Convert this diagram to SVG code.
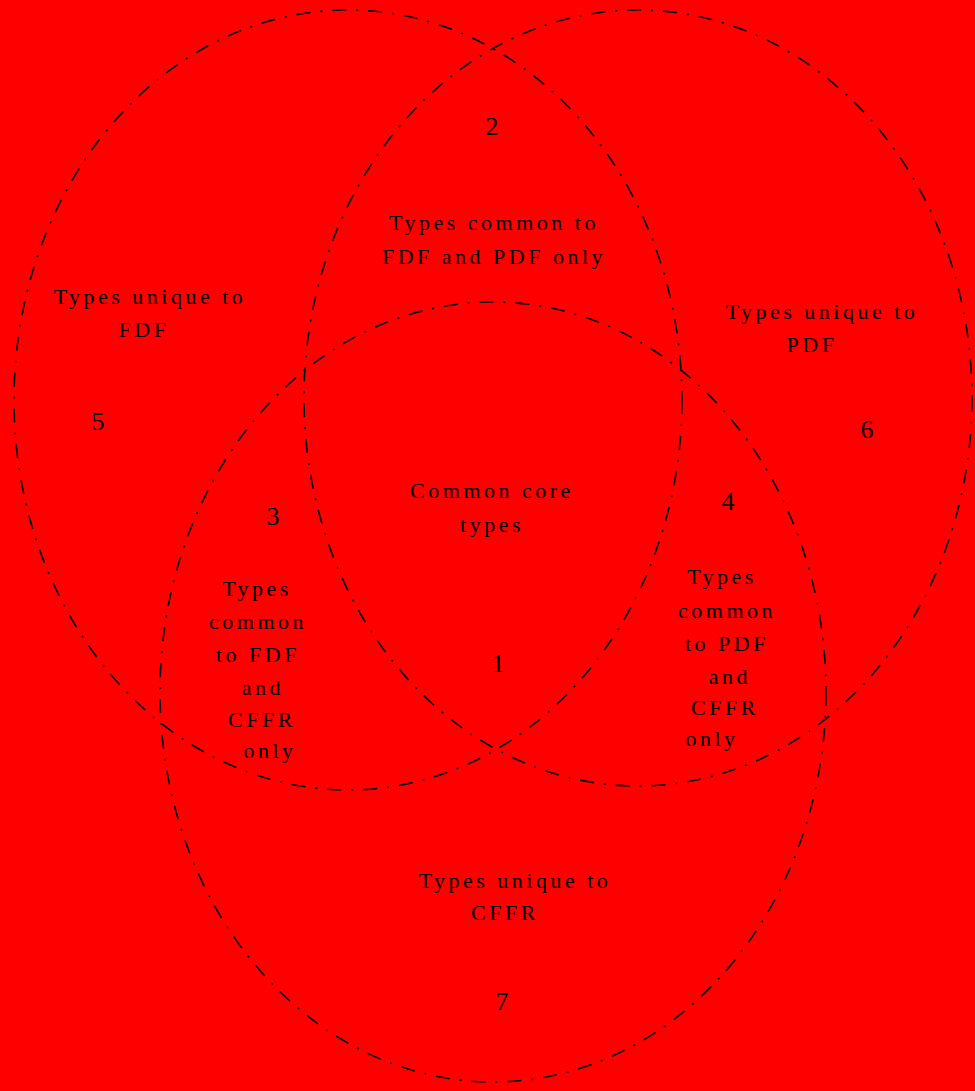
<svg xmlns="http://www.w3.org/2000/svg" width="975" height="1091" viewBox="0 0 975 1091">
<style>
.set{fill:none;stroke:#000;stroke-width:1.6;stroke-dasharray:14 10 2 10}
text{font-family:"Liberation Serif","DejaVu Serif",serif;font-size:22px;fill:#000;text-anchor:middle;letter-spacing:3.5px}
.num{font-size:26px;letter-spacing:0}
</style>
<rect x="0" y="0" width="975" height="1091" fill="#ff0000"/>
<g id="connectors">
<ellipse id="set-left" class="set" cx="348" cy="400" rx="334" ry="390"/>
<ellipse id="set-right" class="set" cx="638" cy="398" rx="334" ry="388"/>
<ellipse id="set-bottom" class="set" cx="493" cy="692" rx="333" ry="390"/>
</g>
<g id="region-2"><text class="num" x="492" y="135">2</text><text x="494" y="230">Types common to</text><text x="494" y="264">FDF and PDF only</text></g>
<g id="region-5"><text x="150" y="304">Types unique to</text><text x="144" y="337">FDF</text><text class="num" x="98" y="430">5</text></g>
<g id="region-6"><text x="822" y="319">Types unique to</text><text x="812" y="352">PDF</text><text class="num" x="867" y="438">6</text></g>
<g id="region-1"><text x="492" y="498">Common core</text><text x="492" y="532">types</text><text class="num" x="498" y="672">1</text></g>
<g id="region-3"><text class="num" x="273" y="525">3</text><text x="257" y="596">Types</text><text x="258" y="629">common</text><text x="258" y="662">to FDF</text><text x="263" y="695">and</text><text x="262" y="727">CFFR</text><text x="270" y="758">only</text></g>
<g id="region-4"><text class="num" x="728" y="510">4</text><text x="722" y="584">Types</text><text x="727" y="618">common</text><text x="727" y="651">to PDF</text><text x="730" y="684">and</text><text x="725" y="715">CFFR</text><text x="712" y="746">only</text></g>
<g id="region-7"><text x="515" y="888">Types unique to</text><text x="505" y="920">CFFR</text><text class="num" x="502" y="1010">7</text></g>
</svg>
